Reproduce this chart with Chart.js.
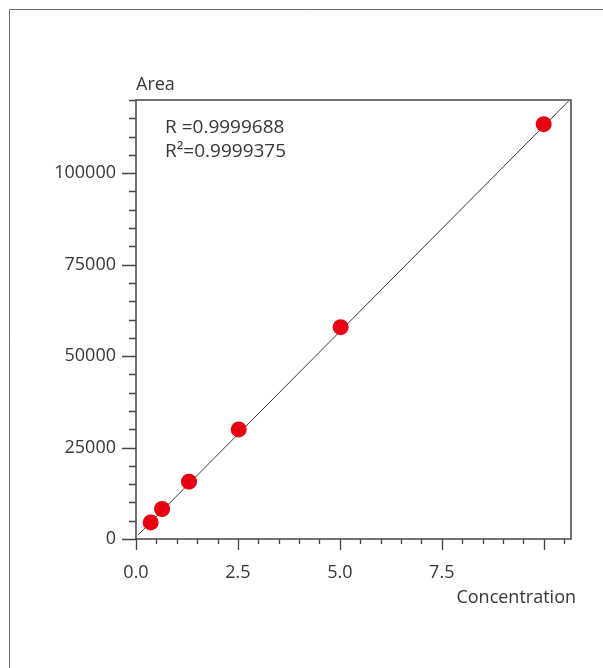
<!DOCTYPE html>
<html>
<head>
<meta charset="utf-8">
<script src="https://cdn.jsdelivr.net/npm/chart.js@4"></script>
<style>
  html, body { margin: 0; padding: 0; background: #fff; }
  #wrap { width: 603px; height: 668px; position: relative; }
</style>
</head>
<body>
<div id="wrap"><canvas id="myChart" width="603" height="668"></canvas></div>
<script>
// measured points (concentration vs area)
const concentracion = [0.36, 0.64, 1.3, 2.52, 5.02, 10.0]
const area = [4540, 8200, 15660, 29950, 57900, 113400]
// regression line ends
const lineaX = [0.056, 10.61]
const lineaY = [1175, 119700]
const textoR = ['R =0.9999688', 'R\u00B2=0.9999375']
const etiquetaY = 'Area'
const etiquetaX = 'Concentration'

const fuente = '"Open Sans", "Noto Sans", sans-serif'
const colorTexto = '#3a3536'
const colorEje = '#4a4343'

const marcas = {
  id: 'marcas',
  beforeDraw(chart) {
    const ctx = chart.ctx
    ctx.save()
    ctx.strokeStyle = '#6b6b6b'
    ctx.lineWidth = 1
    ctx.beginPath()
    ctx.moveTo(9.5, 668)
    ctx.lineTo(9.5, 9.5)
    ctx.lineTo(603, 9.5)
    ctx.stroke()
    ctx.restore()
  },
  afterDraw(chart) {
    const ctx = chart.ctx
    const a = chart.chartArea
    const x = chart.scales.x
    const y = chart.scales.y
    ctx.save()
    ctx.strokeStyle = colorEje
    ctx.lineWidth = 1.5
    ctx.strokeRect(a.left, a.top, a.right - a.left, a.bottom - a.top)
    ctx.lineWidth = 1.3
    ctx.beginPath()
    x.ticks.forEach(t => {
      const px = Math.round(x.getPixelForValue(t.value)) + 0.5
      const mayor = Math.abs(t.value / 2.5 - Math.round(t.value / 2.5)) < 1e-6
      ctx.moveTo(px, a.bottom)
      ctx.lineTo(px, a.bottom + (mayor ? 11 : 5))
    })
    y.ticks.forEach(t => {
      const py = Math.round(y.getPixelForValue(t.value)) + 0.5
      const mayor = t.value % 25000 === 0
      ctx.moveTo(a.left, py)
      ctx.lineTo(a.left - (mayor ? 14 : 7), py)
    })
    ctx.stroke()

    ctx.fillStyle = colorTexto
    ctx.font = '18px ' + fuente
    ctx.textBaseline = 'middle'
    ctx.textAlign = 'left'
    ctx.fillText(etiquetaY, a.left, 85)
    ctx.font = '19px ' + fuente
    ctx.fillText(textoR[0], a.left + 29, 128)
    ctx.fillText(textoR[1], a.left + 29, 152)
    ctx.font = '18px ' + fuente
    ctx.textAlign = 'right'
    ctx.fillText(etiquetaX, 576, 598)
    ctx.restore()
  }
}

const data = {
  datasets: [
    {
      label: 'Regresion',
      data: lineaX.map((v, i) => ({ x: v, y: lineaY[i] })),
      showLine: true,
      borderColor: '#3b3738',
      borderWidth: 1,
      pointRadius: 0,
      order: 2
    },
    {
      label: 'Area',
      data: concentracion.map((v, i) => ({ x: v, y: area[i] })),
      backgroundColor: '#e60012',
      borderWidth: 0,
      pointRadius: 8,
      order: 1
    }
  ]
}

const config = {
  type: 'scatter',
  data: data,
  options: {
    responsive: false,
    animation: false,
    layout: {
      padding: { left: 10, top: 100, right: 32, bottom: 69 }
    },
    plugins: {
      legend: { display: false },
      tooltip: { enabled: false }
    },
    scales: {
      x: {
        type: 'linear',
        min: 0,
        max: 10.67,
        grid: { display: false, drawTicks: false },
        border: { display: false },
        afterFit: s => { s.height = 60 },
        ticks: {
          stepSize: 0.5,
          includeBounds: false,
          autoSkip: false,
          maxRotation: 0,
          padding: 23,
          color: colorTexto,
          font: { family: fuente, size: 18 },
          callback: function (value) {
            const k = value / 2.5
            if (Math.abs(k - Math.round(k)) < 1e-6 && value < 9) {
              return value.toFixed(1)
            }
            return ''
          }
        }
      },
      y: {
        type: 'linear',
        min: 0,
        max: 120000,
        grid: { display: false, drawTicks: false },
        border: { display: false },
        afterFit: s => { s.width = 126 },
        ticks: {
          stepSize: 5000,
          autoSkip: false,
          padding: 20,
          color: colorTexto,
          font: { family: fuente, size: 18 },
          callback: function (value) {
            return value % 25000 === 0 ? String(value) : ''
          }
        }
      }
    }
  },
  plugins: [marcas]
}

new Chart(document.getElementById('myChart'), config)
</script>
</body>
</html>
